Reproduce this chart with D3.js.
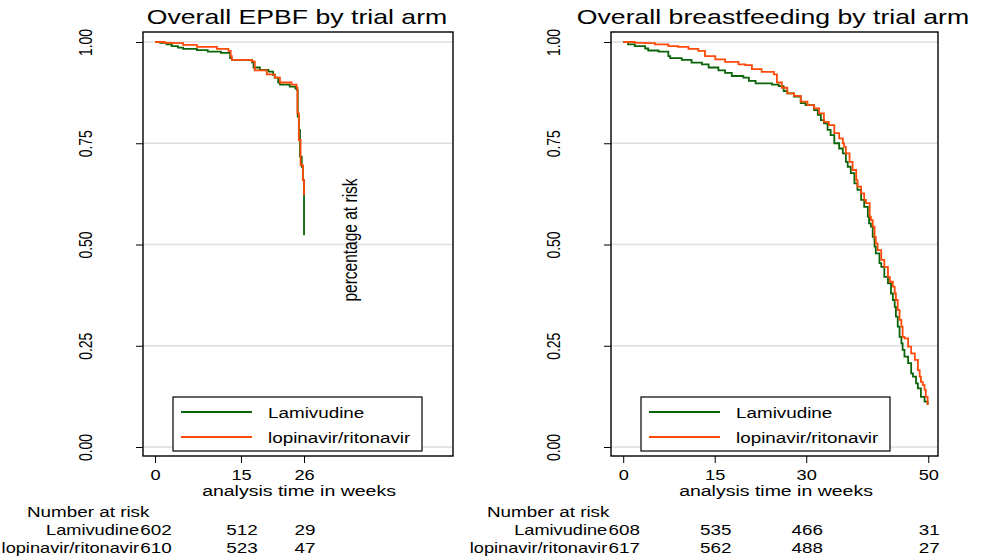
<!DOCTYPE html>
<html><head><meta charset="utf-8">
<script src="https://cdn.jsdelivr.net/npm/d3@7"></script>
<style>html,body{margin:0;padding:0;background:#fff;}svg{display:block;font-family:"Liberation Sans",Arial,Helvetica,sans-serif;}</style>
</head><body>
<script>
// ---------- data ----------
const seriesNames = ["Lamivudine", "lopinavir/ritonavir"];
const seriesColors = ["#0a640a", "#ff4a0a"];
const titles = ["Overall EPBF by trial arm", "Overall breastfeeding by trial arm"];
const yTicks = [0, 0.25, 0.5, 0.75, 1];
const xTicksEPBF = [0, 15, 26];
const xTicksBF = [0, 15, 30, 50];
// Kaplan-Meier steps [week, survival]
const epbfLamivudine = [[0,1],[0.9,0.998],[2.0,0.994],[2.9,0.99],[4.0,0.986],[4.9,0.983],[7.3,0.98],[9.2,0.976],[11.5,0.973],[13.1,0.96],[13.4,0.956],[16.9,0.95],[17.2,0.937],[18.3,0.931],[19.8,0.927],[20.6,0.918],[20.9,0.912],[21.5,0.9],[21.8,0.895],[23.5,0.89],[24.5,0.885],[24.8,0.881],[24.9,0.816],[25.1,0.783],[25.3,0.717],[25.6,0.692],[25.8,0.659],[26,0.523]];
const epbfLopinavir = [[0,1],[1.7,0.998],[2.9,0.997],[4.9,0.993],[7.3,0.988],[10.8,0.983],[12.8,0.978],[13.2,0.965],[13.4,0.956],[16.9,0.952],[17.4,0.93],[19.5,0.92],[20.9,0.912],[21.8,0.9],[23.8,0.895],[24.7,0.888],[24.85,0.824],[25.1,0.758],[25.4,0.696],[25.8,0.659],[26,0.622]];
const bfLamivudine = [[0,1],[0.8,0.994],[1.9,0.99],[3.6,0.984],[4.1,0.979],[5.8,0.976],[7.4,0.965],[7.7,0.96],[9.6,0.956],[11.2,0.949],[12.9,0.945],[14,0.937],[15.6,0.93],[16.7,0.924],[17.8,0.916],[19.7,0.912],[20.6,0.904],[21.7,0.898],[24.4,0.895],[25.5,0.891],[26.3,0.879],[26.9,0.873],[28.0,0.865],[29.1,0.849],[29.9,0.844],[31.3,0.832],[31.9,0.82],[32.4,0.807],[32.9,0.799],[33.5,0.783],[34.0,0.77],[34.6,0.75],[35.4,0.737],[36.0,0.725],[36.5,0.704],[36.8,0.692],[37.3,0.676],[37.9,0.651],[38.4,0.635],[39.0,0.61],[39.5,0.593],[40.1,0.569],[40.3,0.552],[40.6,0.544],[40.9,0.519],[41.2,0.495],[41.4,0.478],[42.0,0.454],[42.3,0.445],[42.8,0.42],[43.4,0.404],[43.9,0.379],[44.2,0.363],[44.5,0.346],[44.7,0.322],[45.0,0.297],[45.3,0.272],[45.6,0.256],[45.8,0.24],[46.1,0.223],[46.7,0.207],[47.2,0.182],[47.5,0.174],[48.0,0.157],[48.3,0.145],[48.8,0.124],[49.4,0.112],[49.9,0.104]];
const bfLopinavir = [[0,1],[1.9,0.998],[3.6,0.997],[5.2,0.994],[7.4,0.99],[9,0.988],[10.7,0.983],[12.3,0.978],[13.4,0.965],[15.1,0.957],[16.7,0.951],[18.9,0.945],[20,0.943],[21.1,0.933],[22.7,0.926],[24.7,0.92],[25.2,0.9],[26,0.887],[26.9,0.873],[28.0,0.867],[29.1,0.853],[30.2,0.844],[31.3,0.836],[32.1,0.824],[32.9,0.803],[33.7,0.795],[34.6,0.775],[35.4,0.762],[36.0,0.75],[36.2,0.741],[36.5,0.725],[37.1,0.704],[37.6,0.684],[38.2,0.659],[38.4,0.643],[39.0,0.626],[39.5,0.61],[39.8,0.602],[40.4,0.569],[40.6,0.56],[40.9,0.544],[41.2,0.519],[41.4,0.503],[41.7,0.486],[42.3,0.462],[42.8,0.445],[43.4,0.42],[43.7,0.408],[44.2,0.396],[44.5,0.379],[44.7,0.363],[45.0,0.338],[45.3,0.314],[45.6,0.297],[45.8,0.272],[46.1,0.268],[46.7,0.248],[47.2,0.231],[47.8,0.215],[48.3,0.19],[48.6,0.174],[48.8,0.161],[49.1,0.153],[49.4,0.141],[49.6,0.124],[49.9,0.104]];
const riskEPBF = [[602, 512, 29], [610, 523, 47]];
const riskBF = [[608, 535, 466, 31], [617, 562, 488, 27]];

// ---------- drawing ----------
const W = 986, H = 560, k = 1.3;
const svg = d3.select("body").append("svg").attr("width", W).attr("height", H);

function label(x, y, str, size, anchor, rotate) {
  const g = svg.append("g").attr("transform", `translate(${x},${y}) scale(${k},1)`);
  const t = g.append("text").text(str).attr("font-size", size).attr("text-anchor", anchor || "start").attr("fill", "#000");
  if (rotate) t.attr("transform", "rotate(-90)");
  return t;
}

const panels = [
  {title: titles[0], left: 143, right: 453, domain: [-2.1, 52], ticks: xTicksEPBF, series: [epbfLamivudine, epbfLopinavir], risk: riskEPBF, titleX: 297, riskX: 27, axisTitleX: 299},
  {title: titles[1], left: 611, right: 938, domain: [-2.0, 51.6], ticks: xTicksBF, series: [bfLamivudine, bfLopinavir], risk: riskBF, titleX: 773, riskX: 487, axisTitleX: 776}
];
const frameTop = 32, frameBottom = 456;
const y = d3.scaleLinear().domain([0, 1]).range([447, 42]);

panels.forEach(p => {
  const x = d3.scaleLinear().domain(p.domain).range([p.left, p.right]);
  const g = svg.append("g");
  g.selectAll("line.grid").data(yTicks).join("line")
    .attr("x1", p.left).attr("x2", p.right)
    .attr("y1", d => y(d)).attr("y2", d => y(d))
    .attr("stroke", "#dedede").attr("stroke-width", 1.6);
  const line = d3.line().x(d => x(d[0])).y(d => y(d[1])).curve(d3.curveStepAfter);
  p.series.forEach((s, i) => {
    g.append("path").datum(s).attr("d", line).attr("fill", "none")
      .attr("stroke", seriesColors[i]).attr("stroke-width", 1.8);
  });
  g.append("rect").attr("x", p.left).attr("y", frameTop).attr("width", p.right - p.left).attr("height", frameBottom - frameTop)
    .attr("fill", "none").attr("stroke", "#000").attr("stroke-width", 1.4);
  const ax = svg.append("g").attr("transform", `translate(0,${frameBottom})`)
    .call(d3.axisBottom(x).tickValues(p.ticks).tickSize(7).tickFormat(d => d));
  ax.select(".domain").remove();
  ax.selectAll(".tick line").attr("stroke", "#000");
  ax.selectAll(".tick text").attr("font-size", 14).attr("font-family", null).attr("fill", "#000")
    .attr("y", 24).attr("dy", 0).attr("transform", `scale(${k},1)`);
  const ay = svg.append("g").attr("transform", `translate(${p.left},0)`)
    .call(d3.axisLeft(y).tickValues(yTicks).tickSize(7).tickFormat(d3.format(".2f")));
  ay.select(".domain").remove();
  ay.selectAll(".tick line").attr("stroke", "#000");
  ay.selectAll(".tick text").attr("font-size", 14).attr("font-family", null).attr("fill", "#000")
    .attr("x", 0).attr("y", 0).attr("dy", 0).attr("text-anchor", "middle")
    .attr("transform", `translate(-51,0) scale(${k},1) rotate(-90)`);
  label(p.titleX, 24, p.title, 20.5, "middle");
  label(p.axisTitleX, 496, "analysis time in weeks", 15, "middle");
  const lx = p.left + 30, ly = 397, lw = 249, lh = 54;
  g.append("rect").attr("x", lx).attr("y", ly).attr("width", lw).attr("height", lh)
    .attr("fill", "#fff").attr("stroke", "#000").attr("stroke-width", 1.2);
  seriesNames.forEach((n, i) => {
    const yy = ly + 15 + i * 25;
    g.append("line").attr("x1", lx + 8).attr("x2", lx + 79).attr("y1", yy).attr("y2", yy)
      .attr("stroke", seriesColors[i]).attr("stroke-width", 1.8);
    label(lx + 95, yy + 6, n, 14.5, "start");
  });
  label(p.riskX, 517, "Number at risk", 14.5, "start");
  p.risk.forEach((row, i) => {
    const yy = 535 + i * 18;
    label(x(0) - 16, yy, seriesNames[i], 14, "end");
    row.forEach((v, j) => label(x(p.ticks[j]) + 1, yy, String(v), 14.5, "middle"));
  });
});
label(357, 240, "percentage at risk", 15.5, "middle", true);
</script>
</body></html>
